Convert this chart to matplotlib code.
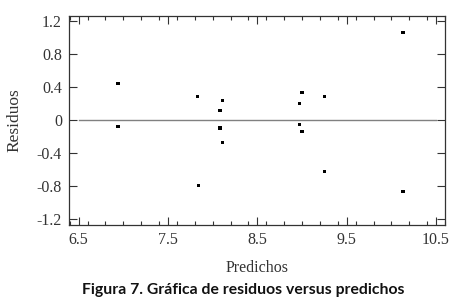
import matplotlib
matplotlib.use('Agg')
import matplotlib.pyplot as plt
from matplotlib.ticker import MultipleLocator

# ── datos ──────────────────────────────────────────────
predichos = [6.94, 6.94, 7.83, 7.84, 8.08, 8.08, 8.11, 8.11,
             8.97, 8.97, 9.00, 9.00, 9.25, 9.25, 10.13, 10.13]
residuos  = [0.445, -0.08, 0.287, -0.79, 0.117, -0.097, 0.234, -0.27,
             0.20, -0.056, 0.335, -0.14, 0.287, -0.626, 1.06, -0.865]
x_ticks = [6.5, 7.5, 8.5, 9.5, 10.5]
y_ticks = [-1.2, -0.8, -0.4, 0, 0.4, 0.8, 1.2]
y_labels = ['-1.2', '-0.8', '-0.4', '0', '0.4', '0.8', '1.2']

SERIF = ['Liberation Serif', 'DejaVu Serif']

fig = plt.figure(figsize=(4.59, 3.06), dpi=100)
fig.patch.set_facecolor('white')
ax = fig.add_axes([0.150, 0.265, 0.8195, 0.683])

# línea de cero
ax.plot([6.5, 10.5], [0, 0], color='#808080', lw=1.0, zorder=1)
ax.scatter(predichos, residuos, marker='s', s=6, color='black',
           edgecolors='none', zorder=3)

ax.set_xlim(6.39, 10.6)
ax.set_ylim(-1.27, 1.26)
ax.set_xticks(x_ticks)
ax.set_xticklabels([str(v) for v in x_ticks])
ax.xaxis.set_minor_locator(MultipleLocator(0.2))
ax.set_yticks(y_ticks)
ax.set_yticklabels(y_labels)

ax.tick_params(axis='both', which='both', direction='in',
               top=True, right=True, color='#333333')
ax.tick_params(axis='both', which='major', length=6, width=0.8,
               labelsize=11.5, pad=5)
ax.tick_params(axis='x', which='minor', length=3, width=0.8)
for lbl in ax.get_xticklabels() + ax.get_yticklabels():
    lbl.set_family(SERIF)
    lbl.set_color('#333333')
for sp in ax.spines.values():
    sp.set_color('#333333')
    sp.set_linewidth(0.9)

ax.set_xlabel('Predichos', family=SERIF, fontsize=11.5, color='#333333',
              labelpad=9)
ax.set_ylabel('Residuos', family=SERIF, fontsize=12.5, color='#333333',
              labelpad=10)

fig.text(0.53, 0.052, 'Figura 7. Gráfica de residuos versus predichos',
         ha='center', va='center', fontsize=11.3, fontweight='bold',
         family=['Lato', 'DejaVu Sans'], color='#111111')

plt.savefig('out.png', dpi=100)
plt.close()
